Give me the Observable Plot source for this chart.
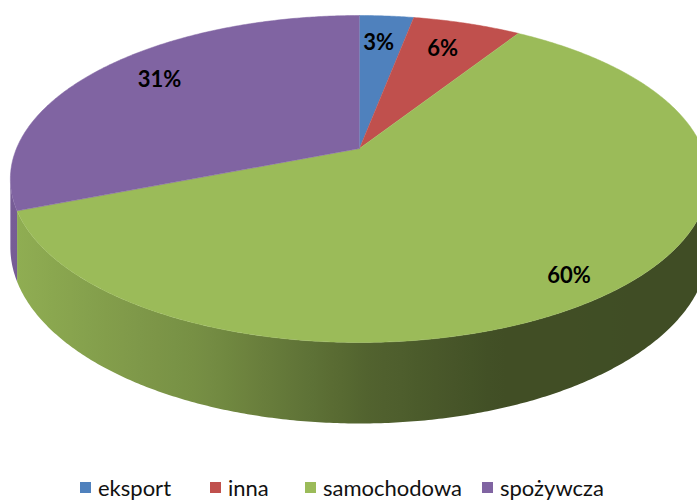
<!DOCTYPE html>
<html><head><meta charset="utf-8">
<script src="https://cdn.jsdelivr.net/npm/d3@7"></script>
<script src="https://cdn.jsdelivr.net/npm/@observablehq/plot@0.6"></script>
<style>
html,body{margin:0;padding:0;background:#fff;overflow:hidden;width:697px;height:500px}
#chart{width:697px}
.lg-swatches{font-family:Lato,sans-serif!important;font-size:22px!important;line-height:22px!important;color:#111!important;margin:0!important;padding-left:80px!important;}
.lg-swatches-wrap{min-height:29px!important;flex-wrap:nowrap!important;display:flex!important;align-items:center!important}
.lg-swatch{margin-right:0!important;flex:0 0 auto;line-height:22px!important}
span.lg-swatch:nth-of-type(1){width:130px}
span.lg-swatch:nth-of-type(2){width:95px}
span.lg-swatch:nth-of-type(3){width:177px}
.lg-swatch>svg{margin-right:7px!important}
</style></head><body><div id="chart"></div>
<script>
// ---- data ----
const categories = ["eksport", "inna", "samochodowa", "spożywcza"];
const values = [3, 6, 60, 31];
const labels = ["3%", "6%", "60%", "31%"];
const colors = ["#4F81BD", "#C0504D", "#9BBB59", "#8064A2"];

// ---- pseudo-3D projection of a unit disk ----
const B = 0.1865;            // perspective strength
const D = 65.9 / 157.8;      // side thickness (in y units)
function project(theta, r, level) {
  const X = r * Math.sin(theta), Z = r * Math.cos(theta);
  const s = 1 / (1 + B * Z);
  return {u: X * s, w: Z * s - level * D * s};
}
const total = d3.sum(values);
let acc = 0;
const slices = values.map((v, i) => {
  const a0 = acc / total * 2 * Math.PI;
  acc += v;
  const a1 = acc / total * 2 * Math.PI;
  return {i, v, a0, a1, color: colors[i], label: labels[i]};
});

const shade = d3.scaleLinear()
  .domain([-1.02, -0.46, 0.02, 0.4, 1.02])
  .range([0.93, 0.76, 0.53, 0.42, 0.41]).clamp(true);
function shadeColor(c, f) {
  const k = d3.rgb(c);
  return d3.rgb(k.r * f, k.g * f, k.b * f).formatRgb();
}

const STEP = 0.5 * Math.PI / 180;
const thMin = Math.acos(-B), thMax = 2 * Math.PI - Math.acos(-B);

// side wall polygons (one per visible slice), filled with a horizontal gradient
const wallPts = [];
for (const sl of slices) {
  const lo = Math.max(sl.a0, thMin), hi = Math.min(sl.a1, thMax);
  if (hi <= lo) continue;
  const n = Math.max(2, Math.ceil((hi - lo) / STEP));
  const id = "w" + sl.i, fill = `url(#wallgrad${sl.i})`;
  for (let k = 0; k <= n; k++) {
    const p = project(lo + (hi - lo) * k / n, 1, 0);
    wallPts.push({id, u: p.u, w: p.w, fill});
  }
  for (let k = n; k >= 0; k--) {
    const p = project(lo + (hi - lo) * k / n, 1, 1);
    wallPts.push({id, u: p.u, w: p.w, fill});
  }
}

// top faces
const topPts = [];
for (const sl of slices) {
  const id = "t" + sl.i;
  topPts.push({id, ...project(0, 0, 0), fill: sl.color});
  const n = Math.max(2, Math.ceil((sl.a1 - sl.a0) / STEP));
  for (let k = 0; k <= n; k++) {
    const p = project(sl.a0 + (sl.a1 - sl.a0) * k / n, 1, 0);
    topPts.push({id, u: p.u, w: p.w, fill: sl.color});
  }
}

// labels
const deg = Math.PI / 180;
const labelR = v => v > 50 ? 0.88 : 0.76 + v * 0.001;
const labelShift = v => v > 20 ? 2.5 * deg : -0.6 * deg;
const labelData = slices.map(sl => {
  const p = project((sl.a0 + sl.a1) / 2 + labelShift(sl.v), labelR(sl.v), 0);
  return {u: p.u, w: p.w, label: sl.label};
});

const W = 697, H = 473;
const CX = 359, CY = 148, RX = 343, RY = 157.8;
const plot = Plot.plot({
  width: W, height: H, margin: 0,
  style: {background: "#fff", overflow: "hidden"},
  x: {type: "linear", domain: [-CX / RX, (W - CX) / RX], range: [0, W], axis: null},
  y: {type: "linear", domain: [(CY - H) / RY, CY / RY], range: [H, 0], axis: null},
  color: {type: "identity"},
  marks: [
    Plot.line(wallPts, {x: "u", y: "w", z: "id", fill: "fill", stroke: "none", clip: true}),
    Plot.line(topPts, {x: "u", y: "w", z: "id", fill: "fill", stroke: "fill", strokeWidth: 0.5, clip: true}),
    Plot.text(labelData, {x: "u", y: "w", text: "label", fontSize: 22, fontWeight: "bold", fill: "#000", fontFamily: "Lato, sans-serif"})
  ]
});

// gradients for the side walls, stops placed through the plot's x scale
const xs = plot.scale("x");
const NS = "http://www.w3.org/2000/svg";
const defs = document.createElementNS(NS, "defs");
for (const sl of slices) {
  const g = document.createElementNS(NS, "linearGradient");
  g.setAttribute("id", `wallgrad${sl.i}`);
  g.setAttribute("gradientUnits", "userSpaceOnUse");
  g.setAttribute("x1", 0); g.setAttribute("x2", W);
  g.setAttribute("y1", 0); g.setAttribute("y2", 0);
  for (let k = 0; k <= 40; k++) {
    const px = W * k / 40;
    const u = xs.domain[0] + (xs.domain[1] - xs.domain[0]) * k / 40;
    const st = document.createElementNS(NS, "stop");
    st.setAttribute("offset", px / W);
    st.setAttribute("stop-color", shadeColor(sl.color, shade(u)));
    g.appendChild(st);
  }
  defs.appendChild(g);
}
plot.insertBefore(defs, plot.firstChild);

document.getElementById("chart").appendChild(plot);
const legend = Plot.legend({
  color: {type: "ordinal", domain: categories, range: colors},
  swatchSize: 11, className: "lg"
});
document.getElementById("chart").appendChild(legend);
</script></body></html>
